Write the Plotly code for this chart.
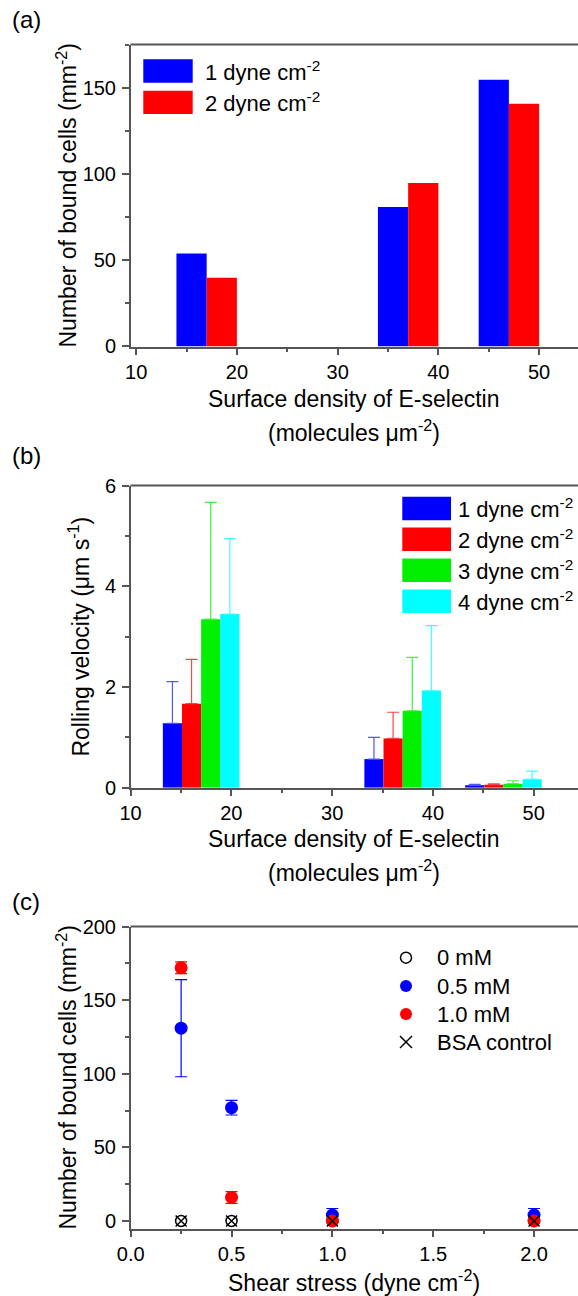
import plotly.graph_objects as go

# ---------------- data ----------------
# Panel (a): number of bound cells vs E-selectin surface density
density_centers = [17, 37, 47]
bound_1dyne = [54, 81, 155]
bound_2dyne = [40, 95, 141]

# Panel (b): rolling velocity (mean and upper error)
vel_1 = [1.28, 0.57, 0.05]
vel_1_err = [0.83, 0.43, 0.02]
vel_2 = [1.67, 0.98, 0.06]
vel_2_err = [0.88, 0.52, 0.02]
vel_3 = [3.35, 1.53, 0.08]
vel_3_err = [2.32, 1.06, 0.06]
vel_4 = [3.45, 1.93, 0.17]
vel_4_err = [1.50, 1.29, 0.16]

# Panel (c): number of bound cells vs shear stress
shear = [0.25, 0.5, 1.0, 2.0]
c_0mM = [0, 0, 0, 0]
c_05mM = [131, 77, 4, 4]
c_05mM_err = [33, 5, 4.5, 4.5]
c_10mM = [172, 16, 0, 0]
c_10mM_err = [4, 4, 0, 0]
c_bsa = [0, 0, 0, 0]

a_labels = ["1 dyne cm<sup>-2</sup>", "2 dyne cm<sup>-2</sup>"]
b_labels = ["1 dyne cm<sup>-2</sup>", "2 dyne cm<sup>-2</sup>",
            "3 dyne cm<sup>-2</sup>", "4 dyne cm<sup>-2</sup>"]
c_labels = ["0 mM", "0.5 mM", "1.0 mM", "BSA control"]

# ---------------- style ----------------
W, H = 578, 1296
FONT = "Liberation Sans"
TICK_SIZE = 20
TITLE_SIZE = 23
LEG_SIZE = 22
PANEL_SIZE = 24
AX = "#555555"
BLUE, RED, GREEN, CYAN = "#0000ff", "#ff0000", "#00f000", "#00ffff"
ERR = {"b": "#5555ff", "r": "#ff4444", "g": "#44ee44", "c": "#44ffff"}

def px(x):
    return x / W

def py(y):
    return 1 - y / H

XDOM = [px(130.5), 1.0]
YDOM_A = [py(346.5), py(44.5)]
YDOM_B = [py(787.8), py(485.5)]
YDOM_C = [py(1228.5), py(926.5)]

fig = go.Figure()

# ---------- (a) bars ----------
wa = 3.0
for vals, col, off in [(bound_1dyne, BLUE, -wa), (bound_2dyne, RED, 0.0)]:
    fig.add_trace(go.Bar(x=density_centers, y=vals, width=wa, offset=off,
                         marker=dict(color=col, line=dict(width=0)),
                         xaxis="x", yaxis="y", showlegend=False))

# ---------- (b) bars ----------
wb = 1.9
b_series = [(vel_1, vel_1_err, BLUE, ERR["b"]), (vel_2, vel_2_err, RED, ERR["r"]),
            (vel_3, vel_3_err, GREEN, ERR["g"]), (vel_4, vel_4_err, CYAN, ERR["c"])]
for i, (vals, err, col, ecol) in enumerate(b_series):
    fig.add_trace(go.Bar(x=density_centers, y=vals, width=wb, offset=-2 * wb + i * wb,
                         marker=dict(color=col, line=dict(width=0)),
                         error_y=dict(type="data", array=err, arrayminus=[0] * len(err),
                                      symmetric=False, color=ecol, thickness=1.2, width=6),
                         xaxis="x2", yaxis="y2", showlegend=False))

# ---------- (c) scatter ----------
fig.add_trace(go.Scatter(x=shear, y=c_0mM, mode="markers",
                         marker=dict(symbol="circle-open", size=11, color="black",
                                     line=dict(width=1.5, color="black")),
                         xaxis="x3", yaxis="y3", showlegend=False))
fig.add_trace(go.Scatter(x=shear, y=c_05mM, mode="markers",
                         marker=dict(symbol="circle", size=13, color=BLUE),
                         error_y=dict(type="data", array=c_05mM_err, color=BLUE,
                                      thickness=1.2, width=6),
                         xaxis="x3", yaxis="y3", showlegend=False))
fig.add_trace(go.Scatter(x=shear, y=c_10mM, mode="markers",
                         marker=dict(symbol="circle", size=13, color=RED),
                         error_y=dict(type="data", array=c_10mM_err, color=RED,
                                      thickness=1.2, width=6),
                         xaxis="x3", yaxis="y3", showlegend=False))
fig.add_trace(go.Scatter(x=shear, y=c_bsa, mode="markers",
                         marker=dict(symbol="x-thin-open", size=11, color="black",
                                     line=dict(width=1.5, color="black")),
                         xaxis="x3", yaxis="y3", showlegend=False))

# ---------------- axes ----------------
def xax(domain, rng, anchor, dtick, tick0, mdtick, fmt=None):
    d = dict(domain=domain, range=rng, anchor=anchor, dtick=dtick, tick0=tick0,
             ticks="outside", ticklen=6, tickwidth=1.5, tickcolor=AX,
             showline=True, linecolor=AX, linewidth=2, mirror=False,
             showgrid=False, zeroline=False, automargin=False,
             tickfont=dict(family=FONT, size=TICK_SIZE, color="black"),
             minor=dict(ticks="outside", dtick=mdtick, tick0=tick0, ticklen=3.5,
                        tickwidth=1.5, tickcolor=AX, showgrid=False))
    if fmt:
        d["tickformat"] = fmt
    return d

def yax(domain, rng, anchor, dtick, mdtick):
    return dict(domain=domain, range=rng, anchor=anchor, dtick=dtick, tick0=0,
                ticks="outside", ticklen=6.5, tickwidth=1.5, tickcolor=AX,
                showline=True, linecolor=AX, linewidth=2, mirror=False,
                showgrid=False, zeroline=False, automargin=False,
                ticklabelstandoff=2,
                tickfont=dict(family=FONT, size=TICK_SIZE, color="black"),
                minor=dict(ticks="outside", dtick=mdtick, tick0=0, ticklen=3.5,
                           tickwidth=1.5, tickcolor=AX, showgrid=False))

fig.update_layout(
    xaxis=xax(XDOM, [9.44, 53.86], "y", 10, 10, 5),
    yaxis=yax(YDOM_A, [-0.01, 175.5], "x", 50, 25),
    xaxis2=xax(XDOM, [9.99, 54.4], "y2", 10, 10, 5),
    yaxis2=yax(YDOM_B, [-0.0005, 6.005], "x2", 2, 1),
    xaxis3=xax(XDOM, [-0.001, 2.218], "y3", 0.5, 0, 0.25, ".1f"),
    yaxis3=yax(YDOM_C, [-5.1, 200.05], "x3", 50, 25),
)

# ---------------- annotations / shapes ----------------
ann = []
shapes = []

def text(x, y, s, size, xanchor="center", yanchor="middle", angle=0):
    ann.append(dict(x=px(x), y=py(y), xref="paper", yref="paper", text=s,
                    showarrow=False, xanchor=xanchor, yanchor=yanchor,
                    textangle=angle, borderpad=0, borderwidth=0,
                    font=dict(family=FONT, size=size, color="black")))

# panel letters
text(12, 20, "(a)", PANEL_SIZE, xanchor="left")
text(12, 455, "(b)", PANEL_SIZE, xanchor="left")
text(12, 901, "(c)", PANEL_SIZE, xanchor="left")

# axis titles
text(66, 195.5, "Number of bound cells (mm<sup>-2</sup>)", TITLE_SIZE, angle=-90)
text(354, 399, "Surface density of E-selectin", TITLE_SIZE)
text(354, 431, "(molecules μm<sup>-2</sup>)", TITLE_SIZE)
text(79, 636.6, "Rolling velocity (μm s<sup>-1</sup>)", TITLE_SIZE, angle=-90)
text(354, 839, "Surface density of E-selectin", TITLE_SIZE)
text(354, 871, "(molecules μm<sup>-2</sup>)", TITLE_SIZE)
text(66, 1077.5, "Number of bound cells (mm<sup>-2</sup>)", TITLE_SIZE, angle=-90)
# anchored at its bottom so it stays inside the page
text(354, 1295.6, "Shear stress (dyne cm<sup>-2</sup>)", TITLE_SIZE, yanchor="bottom")

# top frame lines (right side of the box is outside the picture)
for top in (44.5, 485.5, 926.5):
    shapes.append(dict(type="line", xref="paper", yref="paper", x0=XDOM[0], x1=1.0,
                       y0=py(top), y1=py(top), line=dict(color=AX, width=2)))

# legend (a)
for i, (lab, col) in enumerate(zip(a_labels, [BLUE, RED])):
    y0 = 59.3 + i * 31.4
    shapes.append(dict(type="rect", xref="paper", yref="paper",
                       x0=px(143.3), x1=px(192.7), y0=py(y0), y1=py(y0 + 23.4),
                       fillcolor=col, line=dict(width=0)))
    text(205, y0 + 11.7, lab, LEG_SIZE, xanchor="left")

# legend (b)
for i, (lab, col) in enumerate(zip(b_labels, [BLUE, RED, GREEN, CYAN])):
    y0 = 496.7 + i * 30.9
    shapes.append(dict(type="rect", xref="paper", yref="paper",
                       x0=px(402.3), x1=px(451), y0=py(y0), y1=py(y0 + 23.5),
                       fillcolor=col, line=dict(width=0)))
    text(457.5, y0 + 11.7, lab, LEG_SIZE, xanchor="left")

# legend (c)
lc_y = [957.7, 986, 1014, 1042]
lx = 406
r = 6
shapes.append(dict(type="circle", xref="paper", yref="paper", xsizemode="pixel", ysizemode="pixel",
                   xanchor=px(lx), yanchor=py(lc_y[0]), x0=-5.5, x1=5.5, y0=-5.5, y1=5.5,
                   line=dict(color="black", width=1.5)))
shapes.append(dict(type="circle", xref="paper", yref="paper", xsizemode="pixel", ysizemode="pixel",
                   xanchor=px(lx), yanchor=py(lc_y[1]), x0=-r, x1=r, y0=-r, y1=r,
                   fillcolor=BLUE, line=dict(width=0)))
shapes.append(dict(type="circle", xref="paper", yref="paper", xsizemode="pixel", ysizemode="pixel",
                   xanchor=px(lx), yanchor=py(lc_y[2]), x0=-r, x1=r, y0=-r, y1=r,
                   fillcolor=RED, line=dict(width=0)))
for sy in (-1, 1):
    shapes.append(dict(type="line", xref="paper", yref="paper", xsizemode="pixel", ysizemode="pixel",
                       xanchor=px(lx), yanchor=py(lc_y[3]), x0=-6, x1=6, y0=6 * sy, y1=-6 * sy,
                       line=dict(color="black", width=1.5)))
for lab, yy in zip(c_labels, lc_y):
    text(437, yy, lab, LEG_SIZE, xanchor="left")

fig.update_layout(
    width=W, height=H, margin=dict(l=0, r=0, t=0, b=0),
    paper_bgcolor="white", plot_bgcolor="white",
    barmode="overlay", showlegend=False,
    font=dict(family=FONT, size=20, color="black"),
    annotations=ann, shapes=shapes,
)

fig.write_html("out.html")
